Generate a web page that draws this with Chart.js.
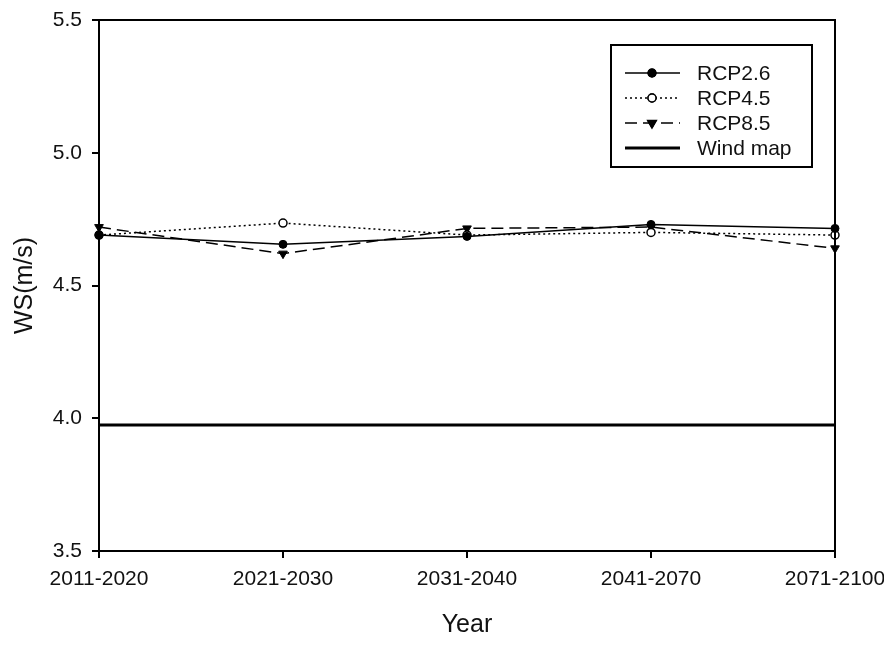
<!DOCTYPE html>
<html>
<head>
<meta charset="utf-8">
<script src="https://cdn.jsdelivr.net/npm/chart.js@4/dist/chart.umd.min.js"></script>
<style>
  html, body { margin: 0; padding: 0; background: #fff; }
  #wrap { width: 884px; height: 645px; position: relative; }
</style>
</head>
<body>
<div id="wrap"><canvas id="wsChart"></canvas></div>
<script>
// Data
const periods = ['2011-2020', '2021-2030', '2031-2040', '2041-2070', '2071-2100'];
const rcp26 = [4.69, 4.655, 4.685, 4.73, 4.715];
const rcp45 = [4.69, 4.735, 4.69, 4.70, 4.69];
const rcp85 = [4.72, 4.62, 4.715, 4.72, 4.64];
const windMap = [3.975, 3.975, 3.975, 3.975, 3.975];
const yTicks = [3.5, 4.0, 4.5, 5.0, 5.5];

const FONT = "Arial, 'Liberation Sans', sans-serif";

// Frame around the plot area (SigmaPlot style box)
const frameBox = {
  id: 'frameBox',
  afterDatasetsDraw(chart) {
    const { ctx, chartArea: a } = chart;
    ctx.save();
    ctx.strokeStyle = '#000';
    ctx.lineWidth = 2;
    ctx.strokeRect(a.left, a.top, a.right - a.left, a.bottom - a.top);
    ctx.restore();
  }
};

// Legend drawn inside the plot, upper right
const boxLegend = {
  id: 'boxLegend',
  afterDraw(chart) {
    const { ctx } = chart;
    const x0 = 611, y0 = 45, w = 201, h = 122;
    ctx.save();
    ctx.fillStyle = '#fff';
    ctx.fillRect(x0, y0, w, h);
    ctx.strokeStyle = '#000';
    ctx.lineWidth = 2;
    ctx.strokeRect(x0, y0, w, h);
    chart.data.datasets.forEach((ds, i) => {
      const y = 73 + i * 25;
      ctx.strokeStyle = '#000';
      ctx.lineWidth = ds.borderWidth;
      ctx.setLineDash(ds.borderDash || []);
      ctx.beginPath();
      ctx.moveTo(625, y);
      ctx.lineTo(680, y);
      ctx.stroke();
      ctx.setLineDash([]);
      if (ds.pointRadius > 0) {
        Chart.helpers.drawPoint(ctx, {
          pointStyle: ds.pointStyle,
          rotation: ds.pointRotation || 0,
          radius: ds.pointRadius,
          borderWidth: ds.pointBorderWidth
        }, 652, y);
        ctx.fillStyle = ds.pointBackgroundColor;
        ctx.strokeStyle = '#000';
        ctx.lineWidth = ds.pointBorderWidth;
        ctx.fill();
        ctx.stroke();
      }
      ctx.fillStyle = '#111';
      ctx.font = '21px ' + FONT;
      ctx.textBaseline = 'middle';
      ctx.fillText(ds.label, 697, y + 1);
    });
    ctx.restore();
  }
};

new Chart(document.getElementById('wsChart'), {
  type: 'line',
  data: {
    labels: periods,
    datasets: [
      { label: 'RCP2.6', data: rcp26, borderColor: '#000', borderWidth: 1.5,
        pointStyle: 'circle', pointRadius: 4, pointBackgroundColor: '#000',
        pointBorderColor: '#000', pointBorderWidth: 1, clip: false },
      { label: 'RCP4.5', data: rcp45, borderColor: '#000', borderWidth: 1.5, borderDash: [2, 3],
        pointStyle: 'circle', pointRadius: 4, pointBackgroundColor: '#fff',
        pointBorderColor: '#000', pointBorderWidth: 1.5, clip: false },
      { label: 'RCP8.5', data: rcp85, borderColor: '#000', borderWidth: 1.5, borderDash: [12, 6],
        pointStyle: 'triangle', pointRotation: 180, pointRadius: 5, pointBackgroundColor: '#000',
        pointBorderColor: '#000', pointBorderWidth: 1, clip: false },
      { label: 'Wind map', data: windMap, borderColor: '#000', borderWidth: 3,
        pointRadius: 0, clip: false }
    ]
  },
  options: {
    responsive: true,
    maintainAspectRatio: false,
    animation: false,
    layout: { padding: { left: 0, right: 49, top: 20, bottom: 0 } },
    plugins: { legend: { display: false }, tooltip: { enabled: false } },
    elements: { line: { tension: 0 } },
    scales: {
      x: {
        type: 'category',
        offset: false,
        grid: { drawOnChartArea: false, color: '#000', lineWidth: 2, tickLength: 7 },
        border: { display: false },
        ticks: { color: '#111', padding: 9, maxRotation: 0, font: { family: FONT, size: 21 } },
        title: { display: true, text: 'Year', color: '#111', padding: { top: 4, bottom: 5 },
                 font: { family: FONT, size: 25 } },
        afterFit(scale) {
          scale.height = 94;
          scale.paddingLeft = 0;
          scale.paddingRight = 0;
        }
      },
      y: {
        min: 3.5, max: 5.5,
        afterBuildTicks(scale) { scale.ticks = yTicks.map((v) => ({ value: v })); },
        grid: { drawOnChartArea: false, color: '#000', lineWidth: 2, tickLength: 7 },
        border: { display: false },
        ticks: { color: '#111', padding: 10, font: { family: FONT, size: 21 },
                 callback: (v) => Number(v).toFixed(1) },
        title: { display: true, text: 'WS(m/s)', color: '#111', padding: { top: 10, bottom: 0 },
                 font: { family: FONT, size: 25 } },
        afterFit(scale) {
          scale.width = 99;
          scale.paddingTop = 0;
          scale.paddingBottom = 0;
        }
      }
    }
  },
  plugins: [frameBox, boxLegend]
});
</script>
</body>
</html>
